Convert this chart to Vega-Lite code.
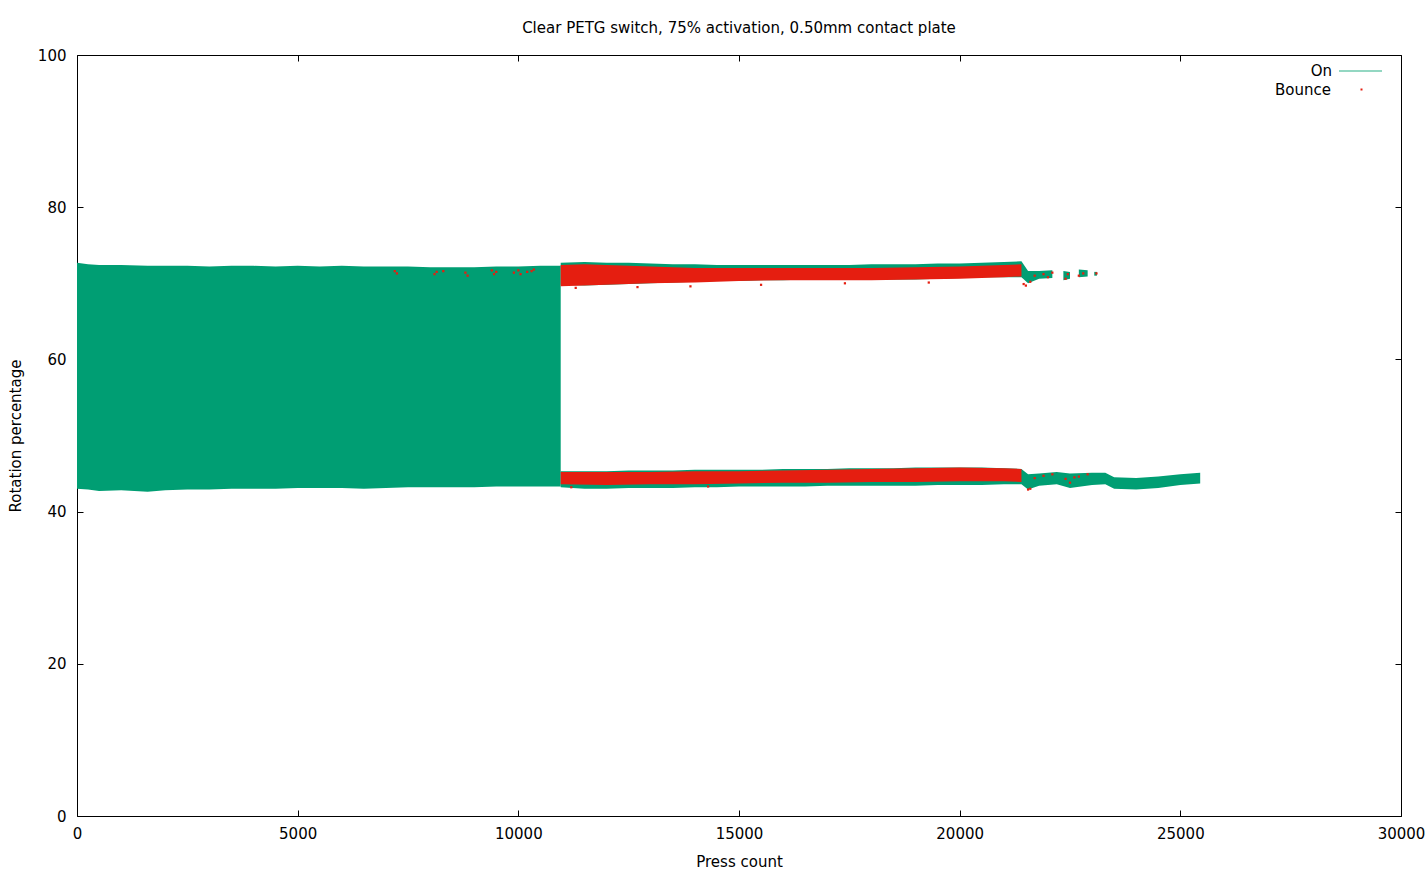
{
  "$schema": "https://vega.github.io/schema/vega-lite/v6.json",
  "width": 1324,
  "height": 761,
  "autosize": {"type": "none"},
  "padding": {"left": 77, "top": 55, "right": 27, "bottom": 58},
  "background": "white",
  "title": {
    "text": "Clear PETG switch, 75% activation, 0.50mm contact plate",
    "font": "DejaVu Sans",
    "fontSize": 15,
    "fontWeight": "normal",
    "color": "black",
    "offset": 12
  },
  "datasets": {
    "on": [
      {"press": 0, "lo": 43.0, "hi": 72.7, "seg": "a", "series": "On"},
      {"press": 250, "lo": 42.9, "hi": 72.5, "seg": "a", "series": "On"},
      {"press": 500, "lo": 42.7, "hi": 72.4, "seg": "a", "series": "On"},
      {"press": 1000, "lo": 42.8, "hi": 72.4, "seg": "a", "series": "On"},
      {"press": 1600, "lo": 42.6, "hi": 72.3, "seg": "a", "series": "On"},
      {"press": 2000, "lo": 42.8, "hi": 72.3, "seg": "a", "series": "On"},
      {"press": 2500, "lo": 42.9, "hi": 72.3, "seg": "a", "series": "On"},
      {"press": 3000, "lo": 42.9, "hi": 72.2, "seg": "a", "series": "On"},
      {"press": 3500, "lo": 43.0, "hi": 72.3, "seg": "a", "series": "On"},
      {"press": 4000, "lo": 43.0, "hi": 72.3, "seg": "a", "series": "On"},
      {"press": 4500, "lo": 43.0, "hi": 72.2, "seg": "a", "series": "On"},
      {"press": 5000, "lo": 43.1, "hi": 72.3, "seg": "a", "series": "On"},
      {"press": 5500, "lo": 43.1, "hi": 72.2, "seg": "a", "series": "On"},
      {"press": 6000, "lo": 43.1, "hi": 72.3, "seg": "a", "series": "On"},
      {"press": 6500, "lo": 43.0, "hi": 72.2, "seg": "a", "series": "On"},
      {"press": 7000, "lo": 43.1, "hi": 72.2, "seg": "a", "series": "On"},
      {"press": 7500, "lo": 43.2, "hi": 72.2, "seg": "a", "series": "On"},
      {"press": 8000, "lo": 43.2, "hi": 72.1, "seg": "a", "series": "On"},
      {"press": 8500, "lo": 43.2, "hi": 72.1, "seg": "a", "series": "On"},
      {"press": 9000, "lo": 43.2, "hi": 72.1, "seg": "a", "series": "On"},
      {"press": 9500, "lo": 43.3, "hi": 72.2, "seg": "a", "series": "On"},
      {"press": 10000, "lo": 43.3, "hi": 72.2, "seg": "a", "series": "On"},
      {"press": 10500, "lo": 43.3, "hi": 72.3, "seg": "a", "series": "On"},
      {"press": 10960, "lo": 43.3, "hi": 72.3, "seg": "a", "series": "On"},
      {"press": 10960, "lo": 69.8, "hi": 72.7, "seg": "t", "series": "On"},
      {"press": 11500, "lo": 69.7, "hi": 72.8, "seg": "t", "series": "On"},
      {"press": 12000, "lo": 69.8, "hi": 72.7, "seg": "t", "series": "On"},
      {"press": 12500, "lo": 69.9, "hi": 72.7, "seg": "t", "series": "On"},
      {"press": 13000, "lo": 70.0, "hi": 72.6, "seg": "t", "series": "On"},
      {"press": 13500, "lo": 70.1, "hi": 72.5, "seg": "t", "series": "On"},
      {"press": 14000, "lo": 70.2, "hi": 72.5, "seg": "t", "series": "On"},
      {"press": 14500, "lo": 70.3, "hi": 72.4, "seg": "t", "series": "On"},
      {"press": 15000, "lo": 70.3, "hi": 72.4, "seg": "t", "series": "On"},
      {"press": 15500, "lo": 70.4, "hi": 72.4, "seg": "t", "series": "On"},
      {"press": 16000, "lo": 70.4, "hi": 72.4, "seg": "t", "series": "On"},
      {"press": 16500, "lo": 70.5, "hi": 72.4, "seg": "t", "series": "On"},
      {"press": 17000, "lo": 70.5, "hi": 72.4, "seg": "t", "series": "On"},
      {"press": 17500, "lo": 70.5, "hi": 72.4, "seg": "t", "series": "On"},
      {"press": 18000, "lo": 70.5, "hi": 72.5, "seg": "t", "series": "On"},
      {"press": 18500, "lo": 70.5, "hi": 72.5, "seg": "t", "series": "On"},
      {"press": 19000, "lo": 70.5, "hi": 72.5, "seg": "t", "series": "On"},
      {"press": 19500, "lo": 70.6, "hi": 72.6, "seg": "t", "series": "On"},
      {"press": 20000, "lo": 70.7, "hi": 72.6, "seg": "t", "series": "On"},
      {"press": 20500, "lo": 70.8, "hi": 72.7, "seg": "t", "series": "On"},
      {"press": 21000, "lo": 70.8, "hi": 72.8, "seg": "t", "series": "On"},
      {"press": 21400, "lo": 70.8, "hi": 72.9, "seg": "t", "series": "On"},
      {"press": 21550, "lo": 70.0, "hi": 71.6, "seg": "t", "series": "On"},
      {"press": 21800, "lo": 70.6, "hi": 71.6, "seg": "t", "series": "On"},
      {"press": 22100, "lo": 70.7, "hi": 71.7, "seg": "t", "series": "On"},
      {"press": 22350, "lo": 70.4, "hi": 71.6, "seg": "t2", "series": "On"},
      {"press": 22500, "lo": 70.6, "hi": 71.5, "seg": "t2", "series": "On"},
      {"press": 22700, "lo": 70.8, "hi": 71.8, "seg": "t3", "series": "On"},
      {"press": 22900, "lo": 70.9, "hi": 71.7, "seg": "t3", "series": "On"},
      {"press": 23050, "lo": 71.0, "hi": 71.5, "seg": "t4", "series": "On"},
      {"press": 23110, "lo": 71.0, "hi": 71.5, "seg": "t4", "series": "On"},
      {"press": 10960, "lo": 43.2, "hi": 45.3, "seg": "b", "series": "On"},
      {"press": 11500, "lo": 43.0, "hi": 45.3, "seg": "b", "series": "On"},
      {"press": 12000, "lo": 43.0, "hi": 45.3, "seg": "b", "series": "On"},
      {"press": 12500, "lo": 43.1, "hi": 45.4, "seg": "b", "series": "On"},
      {"press": 13000, "lo": 43.1, "hi": 45.4, "seg": "b", "series": "On"},
      {"press": 13500, "lo": 43.1, "hi": 45.4, "seg": "b", "series": "On"},
      {"press": 14000, "lo": 43.2, "hi": 45.5, "seg": "b", "series": "On"},
      {"press": 14500, "lo": 43.2, "hi": 45.5, "seg": "b", "series": "On"},
      {"press": 15000, "lo": 43.3, "hi": 45.5, "seg": "b", "series": "On"},
      {"press": 15500, "lo": 43.3, "hi": 45.5, "seg": "b", "series": "On"},
      {"press": 16000, "lo": 43.3, "hi": 45.6, "seg": "b", "series": "On"},
      {"press": 16500, "lo": 43.3, "hi": 45.6, "seg": "b", "series": "On"},
      {"press": 17000, "lo": 43.4, "hi": 45.6, "seg": "b", "series": "On"},
      {"press": 17500, "lo": 43.4, "hi": 45.7, "seg": "b", "series": "On"},
      {"press": 18000, "lo": 43.4, "hi": 45.7, "seg": "b", "series": "On"},
      {"press": 18500, "lo": 43.4, "hi": 45.7, "seg": "b", "series": "On"},
      {"press": 19000, "lo": 43.4, "hi": 45.8, "seg": "b", "series": "On"},
      {"press": 19500, "lo": 43.5, "hi": 45.8, "seg": "b", "series": "On"},
      {"press": 20000, "lo": 43.5, "hi": 45.8, "seg": "b", "series": "On"},
      {"press": 20500, "lo": 43.5, "hi": 45.8, "seg": "b", "series": "On"},
      {"press": 21000, "lo": 43.6, "hi": 45.7, "seg": "b", "series": "On"},
      {"press": 21400, "lo": 43.6, "hi": 45.6, "seg": "b", "series": "On"},
      {"press": 21550, "lo": 42.9, "hi": 44.9, "seg": "b", "series": "On"},
      {"press": 21800, "lo": 43.4, "hi": 45.0, "seg": "b", "series": "On"},
      {"press": 22200, "lo": 43.6, "hi": 45.2, "seg": "b", "series": "On"},
      {"press": 22500, "lo": 43.1, "hi": 45.0, "seg": "b", "series": "On"},
      {"press": 23000, "lo": 43.5, "hi": 45.1, "seg": "b", "series": "On"},
      {"press": 23300, "lo": 43.6, "hi": 45.1, "seg": "b", "series": "On"},
      {"press": 23500, "lo": 43.0, "hi": 44.5, "seg": "b", "series": "On"},
      {"press": 24000, "lo": 42.9, "hi": 44.4, "seg": "b", "series": "On"},
      {"press": 24500, "lo": 43.1, "hi": 44.6, "seg": "b", "series": "On"},
      {"press": 25000, "lo": 43.5, "hi": 44.9, "seg": "b", "series": "On"},
      {"press": 25450, "lo": 43.7, "hi": 45.1, "seg": "b", "series": "On"}
    ],
    "bounceBand": [
      {"press": 10960, "lo": 69.6, "hi": 72.4, "seg": "t", "series": "Bounce"},
      {"press": 11500, "lo": 69.7, "hi": 72.5, "seg": "t", "series": "Bounce"},
      {"press": 12000, "lo": 69.8, "hi": 72.4, "seg": "t", "series": "Bounce"},
      {"press": 13000, "lo": 70.0, "hi": 72.2, "seg": "t", "series": "Bounce"},
      {"press": 14000, "lo": 70.1, "hi": 72.0, "seg": "t", "series": "Bounce"},
      {"press": 15000, "lo": 70.3, "hi": 72.0, "seg": "t", "series": "Bounce"},
      {"press": 16000, "lo": 70.4, "hi": 72.0, "seg": "t", "series": "Bounce"},
      {"press": 17000, "lo": 70.4, "hi": 72.0, "seg": "t", "series": "Bounce"},
      {"press": 18000, "lo": 70.4, "hi": 72.0, "seg": "t", "series": "Bounce"},
      {"press": 19000, "lo": 70.5, "hi": 72.1, "seg": "t", "series": "Bounce"},
      {"press": 20000, "lo": 70.6, "hi": 72.2, "seg": "t", "series": "Bounce"},
      {"press": 21000, "lo": 70.8, "hi": 72.4, "seg": "t", "series": "Bounce"},
      {"press": 21400, "lo": 70.9, "hi": 72.5, "seg": "t", "series": "Bounce"},
      {"press": 10960, "lo": 43.6, "hi": 45.2, "seg": "b", "series": "Bounce"},
      {"press": 12000, "lo": 43.5, "hi": 45.2, "seg": "b", "series": "Bounce"},
      {"press": 13000, "lo": 43.6, "hi": 45.2, "seg": "b", "series": "Bounce"},
      {"press": 14000, "lo": 43.6, "hi": 45.3, "seg": "b", "series": "Bounce"},
      {"press": 15000, "lo": 43.7, "hi": 45.3, "seg": "b", "series": "Bounce"},
      {"press": 16000, "lo": 43.8, "hi": 45.4, "seg": "b", "series": "Bounce"},
      {"press": 17000, "lo": 43.8, "hi": 45.5, "seg": "b", "series": "Bounce"},
      {"press": 18000, "lo": 43.9, "hi": 45.6, "seg": "b", "series": "Bounce"},
      {"press": 19000, "lo": 43.9, "hi": 45.7, "seg": "b", "series": "Bounce"},
      {"press": 20000, "lo": 44.0, "hi": 45.8, "seg": "b", "series": "Bounce"},
      {"press": 21000, "lo": 44.0, "hi": 45.7, "seg": "b", "series": "Bounce"},
      {"press": 21400, "lo": 43.9, "hi": 45.6, "seg": "b", "series": "Bounce"}
    ],
    "bounce": [
      {"press": 7200, "rot": 71.6, "series": "Bounce"},
      {"press": 7250, "rot": 71.3, "series": "Bounce"},
      {"press": 8100, "rot": 71.2, "series": "Bounce"},
      {"press": 8150, "rot": 71.5, "series": "Bounce"},
      {"press": 8300, "rot": 71.6, "series": "Bounce"},
      {"press": 8800, "rot": 71.4, "series": "Bounce"},
      {"press": 8850, "rot": 71.0, "series": "Bounce"},
      {"press": 9400, "rot": 71.7, "series": "Bounce"},
      {"press": 9450, "rot": 71.2, "series": "Bounce"},
      {"press": 9500, "rot": 71.5, "series": "Bounce"},
      {"press": 9900, "rot": 71.4, "series": "Bounce"},
      {"press": 10000, "rot": 71.7, "series": "Bounce"},
      {"press": 10050, "rot": 71.2, "series": "Bounce"},
      {"press": 10200, "rot": 71.5, "series": "Bounce"},
      {"press": 10300, "rot": 71.6, "series": "Bounce"},
      {"press": 10350, "rot": 71.8, "series": "Bounce"},
      {"press": 11300, "rot": 69.4, "series": "Bounce"},
      {"press": 12700, "rot": 69.5, "series": "Bounce"},
      {"press": 13900, "rot": 69.6, "series": "Bounce"},
      {"press": 15500, "rot": 69.8, "series": "Bounce"},
      {"press": 17400, "rot": 70.0, "series": "Bounce"},
      {"press": 19300, "rot": 70.1, "series": "Bounce"},
      {"press": 21450, "rot": 69.9, "series": "Bounce"},
      {"press": 21500, "rot": 69.7, "series": "Bounce"},
      {"press": 21600, "rot": 70.2, "series": "Bounce"},
      {"press": 21700, "rot": 71.0, "series": "Bounce"},
      {"press": 21900, "rot": 71.2, "series": "Bounce"},
      {"press": 22000, "rot": 70.8, "series": "Bounce"},
      {"press": 22100, "rot": 71.4, "series": "Bounce"},
      {"press": 22400, "rot": 70.6, "series": "Bounce"},
      {"press": 22450, "rot": 71.2, "series": "Bounce"},
      {"press": 22700, "rot": 71.0, "series": "Bounce"},
      {"press": 22800, "rot": 71.3, "series": "Bounce"},
      {"press": 23100, "rot": 71.3, "series": "Bounce"},
      {"press": 11200, "rot": 43.2, "series": "Bounce"},
      {"press": 14300, "rot": 43.3, "series": "Bounce"},
      {"press": 21600, "rot": 43.0, "series": "Bounce"},
      {"press": 21550, "rot": 42.9, "series": "Bounce"},
      {"press": 21700, "rot": 44.4, "series": "Bounce"},
      {"press": 21900, "rot": 44.7, "series": "Bounce"},
      {"press": 22100, "rot": 44.9, "series": "Bounce"},
      {"press": 22400, "rot": 44.3, "series": "Bounce"},
      {"press": 22500, "rot": 43.8, "series": "Bounce"},
      {"press": 22600, "rot": 44.5, "series": "Bounce"},
      {"press": 22700, "rot": 44.6, "series": "Bounce"},
      {"press": 22900, "rot": 44.9, "series": "Bounce"}
    ]
  },
  "layer": [
    {
      "data": {"name": "on"},
      "mark": {"type": "area", "opacity": 1},
      "encoding": {
        "x": {
          "field": "press", "type": "quantitative",
          "scale": {"domain": [0, 30000], "nice": false},
          "axis": {
            "orient": "bottom", "title": "Press count", "values": [0, 5000, 10000, 15000, 20000, 25000, 30000],
            "format": "d", "labelFlush": false
          }
        },
        "y": {
          "field": "lo", "type": "quantitative",
          "scale": {"domain": [0, 100], "nice": false},
          "axis": {"orient": "left", "title": "Rotation percentage", "values": [0, 20, 40, 60, 80, 100]}
        },
        "y2": {"field": "hi"},
        "detail": {"field": "seg"},
        "color": {
          "field": "series", "type": "nominal",
          "scale": {"domain": ["On", "Bounce"], "range": ["#009e73", "#e51e10"]},
          "legend": {
            "title": null,
            "values": ["On"],
            "orient": "none",
            "legendX": 1261,
            "legendY": -6.5,
            "padding": 0,
            "symbolType": "stroke",
            "symbolSize": 1849,
            "symbolOffset": 0,
            "symbolStrokeColor": "#6fcaae",
            "symbolStrokeWidth": 1.3,
            "labelAlign": "right",
            "labelOffset": -51,
            "labelFont": "DejaVu Sans",
            "labelFontSize": 15,
            "labelColor": "black"
          }
        }
      }
    },
    {
      "data": {"name": "bounceBand"},
      "mark": {"type": "area", "opacity": 1},
      "encoding": {
        "x": {"field": "press", "type": "quantitative", "axis": null},
        "y": {"field": "lo", "type": "quantitative", "axis": null},
        "y2": {"field": "hi"},
        "detail": {"field": "seg"},
        "color": {"field": "series", "type": "nominal"}
      }
    },
    {
      "data": {"name": "bounce"},
      "mark": {"type": "point", "filled": true, "size": 5, "opacity": 1, "color": "#e51e10"},
      "encoding": {
        "x": {
          "field": "press", "type": "quantitative",
          "axis": {"orient": "top", "title": null, "labels": false, "values": [0, 5000, 10000, 15000, 20000, 25000, 30000]}
        },
        "y": {
          "field": "rot", "type": "quantitative",
          "axis": {"orient": "right", "title": null, "labels": false, "values": [0, 20, 40, 60, 80, 100]}
        },
        "shape": {
          "field": "series", "type": "nominal",
          "scale": {"domain": ["Bounce"], "range": ["square"]},
          "legend": {
            "title": null,
            "orient": "none",
            "legendX": 1277,
            "legendY": 27,
            "padding": 0,
            "symbolSize": 4,
            "symbolOffset": 0,
            "symbolFillColor": "#e51e10",
            "symbolStrokeColor": "#e51e10",
            "symbolStrokeWidth": 0,
            "labelAlign": "right",
            "labelOffset": -38,
            "labelFont": "DejaVu Sans",
            "labelFontSize": 15,
            "labelColor": "black"
          }
        }
      }
    }
  ],
  "resolve": {"axis": {"x": "independent", "y": "independent"}},
  "config": {
    "view": {"stroke": "black", "strokeWidth": 1},
    "axis": {
      "domain": false,
      "grid": false,
      "ticks": true,
      "tickColor": "black",
      "tickSize": -6,
      "labelFont": "DejaVu Sans",
      "labelFontSize": 15,
      "labelColor": "black",
      "labelPadding": 16,
      "titleFont": "DejaVu Sans",
      "titleFontSize": 15,
      "titleFontWeight": "normal",
      "titleColor": "black"
    },
    "axisLeft": {"titlePadding": 14, "labelPadding": 17},
    "axisBottom": {"titlePadding": 13}
  }
}
